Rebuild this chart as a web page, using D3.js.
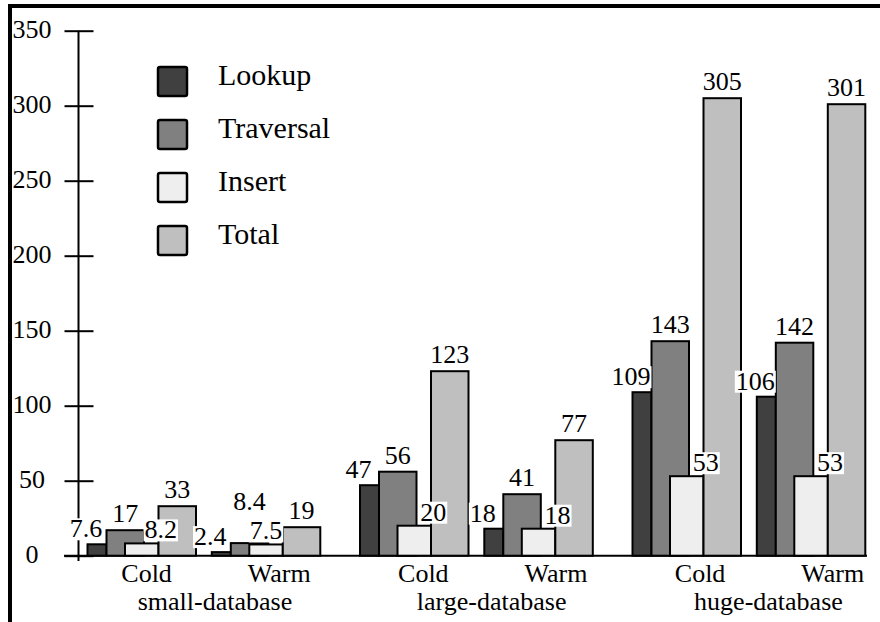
<!DOCTYPE html>
<html>
<head>
  <meta charset="utf-8">
  <title>Lookup / Traversal / Insert</title>
  <style>
    body { margin: 0; background: #fff; }
    text { font-family: "Liberation Serif", "Times New Roman", serif; fill: #000; }
    .bar { stroke: #000; stroke-width: 2; }
    .axis line, .axis-line { stroke: #000; stroke-width: 2; }
  </style>
</head>
<body>
  <div id="chart"></div>

  <script src="https://d3js.org/d3.v7.min.js"></script>

  <script>
    // data
    const databases = ['small-database', 'large-database', 'huge-database'];
    const modes = ['Cold', 'Warm'];
    const series = ['Lookup', 'Traversal', 'Insert', 'Total'];
    const lookup    = [7.6, 2.4, 47, 18, 109, 106];
    const traversal = [17, 8.4, 56, 41, 143, 142];
    const insert    = [8.2, 7.5, 20, 18, 53, 53];
    const total     = [33, 19, 123, 77, 305, 301];
    const yTicks = [0, 50, 100, 150, 200, 250, 300, 350];

    const colors = { Lookup: '#404040', Traversal: '#808080', Insert: '#eeeeee', Total: '#bfbfbf' };

    const width = 880, height = 622;

    const svg = d3.select('#chart').append('svg')
      .attr('width', width)
      .attr('height', height);

    // frame of the original figure (cut at right / bottom)
    svg.append('rect')
      .attr('x', 10).attr('y', 6)
      .attr('width', 900).attr('height', 700)
      .attr('fill', 'none')
      .attr('stroke', '#000')
      .attr('stroke-width', 4);

    const y = d3.scaleLinear().domain([0, 350]).range([555.7, 30.7]);

    // bar groups: database, then cold / warm
    const xDb = d3.scalePoint().domain(databases).range([87.5, 632.5]);
    const xMode = d3.scalePoint().domain(modes).range([0, 124.3]);
    // category labels sit on a slightly wider grid than the bars
    const xDbLabel = d3.scalePoint().domain(databases).range([146.6, 700.1]);
    const xModeLabel = d3.scalePoint().domain(modes).range([0, 132.7]);

    // span of every bar inside a group (the Insert bar overlaps Traversal)
    const span = { Lookup: [0, 19], Traversal: [19, 56.5], Insert: [37.5, 71], Total: [71, 108.5] };

    const values = { Lookup: lookup, Traversal: traversal, Insert: insert, Total: total };

    const groups = [];
    databases.forEach((db, i) => {
      modes.forEach((m, j) => {
        const k = i * modes.length + j;
        groups.push({
          db, mode: m, x0: xDb(db) + xMode(m),
          bars: series.map(s => ({ s, v: values[s][k] }))
        });
      });
    });

    // axes
    const yAxis = svg.append('g')
      .attr('class', 'axis')
      .attr('transform', 'translate(78.5,0)')
      .call(d3.axisLeft(y).tickValues(yTicks).tickFormat(d3.format('d')));
    yAxis.select('.domain').remove();
    yAxis.selectAll('.tick line').attr('x1', -14).attr('x2', 15);
    yAxis.selectAll('.tick text')
      .attr('x', -46.5)
      .attr('dy', '0.27em')
      .attr('text-anchor', 'middle')
      .style('font-size', '26px')
      .style('font-family', '"Liberation Serif", serif');

    svg.append('line').attr('class', 'axis-line')
      .attr('x1', 78.5).attr('x2', 78.5)
      .attr('y1', y(350)).attr('y2', 561);
    svg.append('line').attr('class', 'axis-line')
      .attr('x1', 64).attr('x2', 867)
      .attr('y1', y(0)).attr('y2', y(0));

    // bars
    const g = svg.selectAll('.group').data(groups).join('g')
      .attr('class', 'group')
      .attr('transform', d => `translate(${d.x0},0)`);

    g.selectAll('rect').data(d => d.bars).join('rect')
      .attr('class', 'bar')
      .attr('x', d => span[d.s][0])
      .attr('width', d => span[d.s][1] - span[d.s][0])
      .attr('y', d => y(d.v))
      .attr('height', d => y(0) - y(d.v))
      .attr('fill', d => colors[d.s]);

    // value labels, placed after all bars so their white boxes sit on top
    const labelLayer = svg.append('g');
    const shift = { Lookup: -11, Traversal: 0, Insert: 19, Total: 0 };
    const gap = { Lookup: 7, Traversal: 8, Insert: 5, Total: 8.5 };
    const order = ['Lookup', 'Total', 'Insert', 'Traversal'];

    groups.forEach(grp => {
      const placed = [];
      const totalTop = y(grp.bars[3].v);
      order.forEach(s => {
        const b = grp.bars.find(d => d.s === s);
        const mid = grp.x0 + (span[s][0] + span[s][1]) / 2;
        let cx = mid + shift[s];
        let base = y(b.v) - gap[s];

        const t = labelLayer.append('text')
          .attr('text-anchor', 'middle')
          .style('font-size', '26px')
          .text(String(b.v));
        const w = t.node().getComputedTextLength();

        // an Insert label that would straddle the top of the Total bar goes back over its own bar
        if (s === 'Insert' && base - 18 < totalTop && base + 2 > totalTop) cx = mid;

        // lift a label above any neighbour it runs into
        let moved = true;
        while (moved) {
          moved = false;
          for (const p of placed) {
            const overlapX = cx - w / 2 < p.x1 && cx + w / 2 > p.x0;
            const overlapY = base - 19 < p.y1 && base + 2 > p.y0;
            if (overlapX && overlapY) { base = p.y0 - 10; moved = true; }
          }
        }
        placed.push({ x0: cx - w / 2, x1: cx + w / 2, y0: base - 19, y1: base + 2 });

        labelLayer.insert('rect', () => t.node())
          .attr('x', cx - w / 2 - 1).attr('width', w + 2)
          .attr('y', base - 19).attr('height', 22)
          .attr('fill', '#fff');
        t.attr('x', cx).attr('y', base);
      });
    });

    // category labels
    groups.forEach(grp => {
      svg.append('text')
        .attr('x', xDbLabel(grp.db) + xModeLabel(grp.mode))
        .attr('y', 582)
        .attr('text-anchor', 'middle')
        .style('font-size', '26px')
        .text(grp.mode);
    });
    databases.forEach(db => {
      svg.append('text')
        .attr('x', xDbLabel(db) + xModeLabel.range()[1] / 2 + 2)
        .attr('y', 610)
        .attr('text-anchor', 'middle')
        .style('font-size', '26px')
        .text(db);
    });

    // legend
    const ly = d3.scalePoint().domain(series).range([85, 244]);
    const legend = svg.append('g');
    legend.selectAll('rect').data(series).join('rect')
      .attr('x', 158).attr('y', d => ly(d) - 18)
      .attr('width', 29).attr('height', 29)
      .attr('rx', 2)
      .attr('fill', d => colors[d])
      .attr('stroke', '#000')
      .attr('stroke-width', 2.5);
    legend.selectAll('text').data(series).join('text')
      .attr('x', 218).attr('y', d => ly(d))
      .style('font-size', '30px')
      .text(d => d);
  </script>
</body>
</html>
